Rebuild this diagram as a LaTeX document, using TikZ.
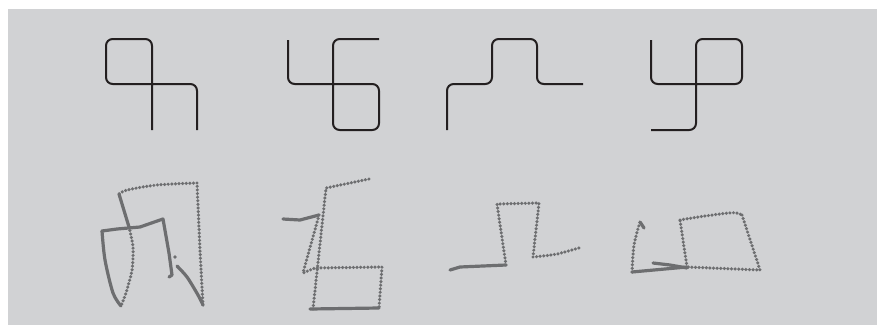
\documentclass[tikz,border=0pt]{standalone}
\usetikzlibrary{positioning}
\definecolor{panelgray}{RGB}{209,210,212}
\definecolor{glyphink}{RGB}{35,31,32}
\definecolor{traceink}{RGB}{109,110,112}

\tikzset{
  glyph/.style={glyphink, line width=1.5pt, rounded corners=5pt},
  trace/.style={traceink, line width=2.6pt, line cap=round, dash pattern=on 0pt off 2.7pt},
  tracesolid/.style={traceink, line width=2.4pt, line cap=round, line join=round},
}

\begin{document}
\begin{tikzpicture}[x=0.75pt,y=-0.75pt]
  \useasboundingbox (0,0) rectangle (877,325);
  \fill[panelgray] (8,9) rectangle (877,325);

  % target shapes
  \draw[glyph] (152,130) -- (152,39) -- (106,39) -- (106,84) -- (197,84) -- (197,130);
  \draw[glyph] (288,40) -- (288,84) -- (379,84) -- (379,130) -- (333,130) -- (333,39) -- (379,39);
  \draw[glyph] (447,130) -- (447,84) -- (492,84) -- (492,39) -- (537,39) -- (537,84) -- (583,84);
  \draw[glyph] (651,40) -- (651,84) -- (742,84) -- (742,39) -- (696,39) -- (696,130) -- (651,130);

  % traced copies, first
  \draw[trace] plot[smooth] coordinates {(203,305) (200,250) (197,183)};
  \draw[trace] plot[smooth] coordinates {(197,183) (157,185) (127,190) (119,194)};
  \draw[tracesolid] (119,194) -- (129,227);
  \draw[trace] plot[smooth] coordinates {(129,227) (133,247) (132,270) (126,293) (121,306)};
  \draw[tracesolid] plot[smooth] coordinates {(121,306) (113,293) (105,260) (102,231)};
  \draw[tracesolid] (102,231) -- (117,229) -- (140,227) -- (163,219) -- (169,253) -- (172,275) -- (169,277);
  \fill[traceink] (175,257) circle (1.4pt);
  \draw[tracesolid] plot[smooth] coordinates {(177,266) (187,277) (198,295) (203,305)};

  % second
  \draw[tracesolid] (283,219) -- (300,220) -- (319,215);
  \draw[trace] (319,215) -- (303,273) -- (315,268) -- (382,267) -- (379,308);
  \draw[tracesolid] (379,308) -- (310,309);
  \draw[trace] (313,309) -- (326,188) -- (369,179);

  % third
  \draw[tracesolid] (450,270) -- (460,267) -- (506,265);
  \draw[trace] (506,265) -- (497,204) -- (539,203) -- (533,257);
  \draw[trace] plot[smooth] coordinates {(533,257) (557,254) (582,247)};

  % fourth
  \draw[tracesolid] (653,263) -- (670,265) -- (687,268);
  \draw[trace] (687,267) -- (680,220);
  \draw[trace] plot[smooth] coordinates {(680,220) (705,216) (733,212.7) (742,215)};
  \draw[trace] (742,215) -- (760,270) -- (687,267);
  \draw[tracesolid] (687,267) -- (632,272);
  \draw[trace] plot[smooth] coordinates {(632,272) (634,245) (640,222)};
  \draw[tracesolid] (640,222) -- (644,228);
\end{tikzpicture}
\end{document}
